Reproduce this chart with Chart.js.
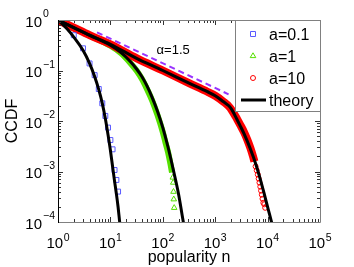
<!DOCTYPE html>
<html>
<head>
<meta charset="utf-8">
<script src="https://cdn.jsdelivr.net/npm/chart.js@4.4.1/dist/chart.umd.min.js"></script>
<style>
  body { margin: 0; background: #fff; }
  canvas { display: block; }
</style>
</head>
<body>
<canvas id="myChart" width="354" height="267"></canvas>
<script>
// tick values / labels
var xTicks = [1, 10, 100, 1000, 10000, 100000];
var xTickExp = ['0', '1', '2', '3', '4', '5'];
var yTicks = [1, 0.1, 0.01, 0.001, 0.0001];
var yTickExp = ['0', '\u22121', '\u22122', '\u22123', '\u22124'];

var seriesNames = ['a=0.1', 'a=1', 'a=10', 'theory'];

// a=0.1 (squares)
var blueN = [1, 2, 3, 4, 5, 6, 7, 8, 9, 10, 11, 12, 13, 14];
var blueP = [1, 0.50, 0.275, 0.138, 0.081, 0.043, 0.0224, 0.0126, 0.0074, 0.0042, 0.00275, 0.00107, 0.00068, 0.0004];

// a=1 (triangles), dense part and tail
var greenN = [1, 2, 4, 10, 16, 24, 32, 40, 50, 63, 79, 100, 112, 126, 140, 150];
var greenP = [1, 0.692, 0.49, 0.309, 0.219, 0.141, 0.0977, 0.0676, 0.0427, 0.0251, 0.0132, 0.00603, 0.0038, 0.0024, 0.00141, 0.000955];
var greenTailN = [155, 158, 160, 162, 165];
var greenTailP = [0.00076, 0.000603, 0.000398, 0.000282, 0.000191];

// a=10 (circles), dense part and tail
var redN = [1, 2, 4, 10, 32, 100, 316, 708, 1000, 1445, 1820, 2089, 2606, 3020, 3548, 4100, 4677, 5200, 5600];
var redP = [1, 0.708, 0.501, 0.331, 0.174, 0.1, 0.0562, 0.038, 0.0316, 0.024, 0.0195, 0.0162, 0.011, 0.00832, 0.00603, 0.00427, 0.00295, 0.00209, 0.00158];
var redTailN = [5900, 6200, 6500, 6750, 7000, 7250, 7500, 7750, 8000, 8300, 8650, 9000];
var redTailP = [0.00126, 0.00105, 0.00087, 0.000724, 0.000603, 0.000501, 0.000417, 0.000347, 0.000288, 0.00024, 0.000224, 0.000191];

// theory curves
var th01N = [1, 1.5, 2, 3, 4, 5, 6, 7, 8, 9, 10, 11, 12, 13, 14, 15, 15.3];
var th01P = [1, 0.66, 0.457, 0.251, 0.138, 0.0759, 0.0417, 0.0224, 0.0112, 0.00537, 0.00263, 0.00126, 0.000646, 0.000363, 0.0002, 0.000102, 0.000085];
var th1N = [1, 2, 3.98, 10, 15.8, 24, 31.6, 39.8, 50.1, 63.1, 79.4, 100, 126, 158, 200, 240, 251];
var th1P = [1, 0.708, 0.501, 0.316, 0.229, 0.151, 0.107, 0.0759, 0.049, 0.0288, 0.0155, 0.00741, 0.00302, 0.0011, 0.000355, 0.000117, 0.0000891];
var th10N = [1, 2, 3.98, 10, 31.6, 100, 316, 708, 1000, 1445, 1820, 2089, 2606, 3020, 3548, 4677, 6026, 7244, 8511, 9772, 10965, 12023];
var th10P = [1, 0.708, 0.501, 0.331, 0.174, 0.1, 0.0562, 0.038, 0.0316, 0.024, 0.02, 0.0166, 0.0107, 0.00794, 0.00562, 0.00282, 0.00135, 0.000708, 0.00038, 0.000219, 0.000138, 0.0000955];

// alpha=1.5 guide line
var slopeN = [5.55, 1800];
var slopeP = [0.57, 0.0338];
var slopeLabel = '\u03b1=1.5';
var slopeLabelAt = [76, 0.217];

var FONT = "'Liberation Sans', Arial, sans-serif";
var blue = '#5a5aff', green = '#55e000', red = '#ff0000', purple = '#9933ff';

function pts(xs, ys) {
    return xs.map(function (x, i) { return { x: x, y: ys[i] }; });
}

function drawMarker(ctx, style, x, y, color) {
    ctx.save();
    ctx.strokeStyle = color;
    ctx.lineWidth = 1;
    ctx.beginPath();
    if (style === 'rect') {
        ctx.rect(x - 2.5, y - 2.5, 5, 5);
    } else if (style === 'triangle') {
        ctx.moveTo(x, y - 3.2);
        ctx.lineTo(x + 2.8, y + 1.6);
        ctx.lineTo(x - 2.8, y + 1.6);
        ctx.closePath();
    } else {
        ctx.arc(x, y, 2.5, 0, Math.PI * 2);
    }
    ctx.stroke();
    ctx.restore();
}

var axesLook = {
    id: 'axesLook',
    afterDatasetsDraw: function (chart) {
        var ctx = chart.ctx, a = chart.chartArea;
        var xs = chart.scales.x, ys = chart.scales.y;
        var i, k, p;
        ctx.save();

        // ticks on all four sides, pointing inwards
        ctx.strokeStyle = '#333';
        ctx.lineWidth = 1;
        ctx.beginPath();
        for (i = 0; i < xTicks.length; i++) {
            p = Math.round(xs.getPixelForValue(xTicks[i])) + 0.5;
            ctx.moveTo(p, a.bottom); ctx.lineTo(p, a.bottom - 5);
            ctx.moveTo(p, a.top); ctx.lineTo(p, a.top + 5);
            if (i < xTicks.length - 1) {
                for (k = 2; k < 10; k++) {
                    p = Math.round(xs.getPixelForValue(xTicks[i] * k)) + 0.5;
                    ctx.moveTo(p, a.bottom); ctx.lineTo(p, a.bottom - 3);
                    ctx.moveTo(p, a.top); ctx.lineTo(p, a.top + 3);
                }
            }
        }
        for (i = 0; i < yTicks.length; i++) {
            p = Math.round(ys.getPixelForValue(yTicks[i])) + 0.5;
            ctx.moveTo(a.left, p); ctx.lineTo(a.left + 5, p);
            ctx.moveTo(a.right, p); ctx.lineTo(a.right - 5, p);
            if (i > 0) {
                for (k = 2; k < 10; k++) {
                    p = Math.round(ys.getPixelForValue(yTicks[i] * k)) + 0.5;
                    ctx.moveTo(a.left, p); ctx.lineTo(a.left + 3, p);
                    ctx.moveTo(a.right, p); ctx.lineTo(a.right - 3, p);
                }
            }
        }
        ctx.stroke();

        // box
        ctx.strokeStyle = '#808080';
        ctx.beginPath();
        ctx.moveTo(a.left, a.top + 0.5); ctx.lineTo(a.right + 0.5, a.top + 0.5);
        ctx.lineTo(a.right + 0.5, a.bottom + 0.5); ctx.lineTo(a.left, a.bottom + 0.5);
        ctx.stroke();
        ctx.strokeStyle = '#000';
        ctx.beginPath();
        ctx.moveTo(a.left + 0.5, a.top); ctx.lineTo(a.left + 0.5, a.bottom + 1);
        ctx.stroke();

        // tick labels 10^k
        ctx.fillStyle = '#000';
        ctx.textBaseline = 'alphabetic';
        for (i = 0; i < xTicks.length; i++) {
            p = xs.getPixelForValue(xTicks[i]);
            ctx.font = '15px ' + FONT;
            var w10 = ctx.measureText('10').width;
            ctx.font = '10.5px ' + FONT;
            var we = ctx.measureText(xTickExp[i]).width;
            var sx = p - (w10 + we + 0.5) / 2;
            ctx.font = '15px ' + FONT;
            ctx.textAlign = 'left';
            ctx.fillText('10', sx, a.bottom + 26.3);
            ctx.font = '10.5px ' + FONT;
            ctx.fillText(xTickExp[i], sx + w10 + 0.5, a.bottom + 18.5);
        }
        for (i = 0; i < yTicks.length; i++) {
            p = ys.getPixelForValue(yTicks[i]);
            ctx.font = '15px ' + FONT;
            ctx.textAlign = 'right';
            ctx.fillText('10', a.left - 16, p + 6.7);
            ctx.font = '10.5px ' + FONT;
            ctx.textAlign = 'left';
            ctx.fillText(yTickExp[i], a.left - 15, p - 3);
        }

        // axis titles
        ctx.font = '16px ' + FONT;
        ctx.textAlign = 'center';
        ctx.fillText('popularity n', (a.left + a.right) / 2, a.bottom + 39.5);
        ctx.save();
        ctx.translate(16.5, (a.top + a.bottom) / 2);
        ctx.rotate(-Math.PI / 2);
        ctx.fillText('CCDF', 0, 0);
        ctx.restore();

        // alpha label
        ctx.font = '13px ' + FONT;
        ctx.textAlign = 'left';
        ctx.fillText(slopeLabel, xs.getPixelForValue(slopeLabelAt[0]), ys.getPixelForValue(slopeLabelAt[1]));

        // legend box
        var lw = 84, lh = 91;
        var lx = a.right - lw, ly = a.top;
        ctx.fillStyle = '#fff';
        ctx.fillRect(lx, ly, lw, lh);
        ctx.strokeStyle = '#808080';
        ctx.strokeRect(lx - 0.5, ly + 0.5, lw + 1, lh);
        var cols = [blue, green, red];
        var styles = ['rect', 'triangle', 'circle'];
        ctx.font = '16px ' + FONT;
        ctx.fillStyle = '#000';
        for (i = 0; i < seriesNames.length; i++) {
            var ry = ly + 14 + i * 22;
            if (i < 3) {
                drawMarker(ctx, styles[i], lx + 17, ry, cols[i]);
            } else {
                ctx.strokeStyle = '#000';
                ctx.lineWidth = 3;
                ctx.beginPath();
                ctx.moveTo(lx + 5, ry); ctx.lineTo(lx + 30, ry);
                ctx.stroke();
                ctx.lineWidth = 1;
            }
            ctx.fillText(seriesNames[i], lx + 33, ry + 6);
        }
        ctx.restore();
    }
};

var ctx = document.getElementById('myChart');
var myChart = new Chart(ctx, {
    type: 'scatter',
    data: {
        datasets: [
            { label: 'slope', data: pts(slopeN, slopeP), showLine: true, borderColor: purple, borderWidth: 2,
              borderDash: [6, 4], pointRadius: 0, order: 0, clip: 0 },
            { label: 'theory a=0.1', data: pts(th01N, th01P), showLine: true, borderColor: '#000', borderWidth: 3,
              pointRadius: 0, cubicInterpolationMode: 'monotone', order: 1, clip: 0 },
            { label: 'theory a=1', data: pts(th1N, th1P), showLine: true, borderColor: '#000', borderWidth: 3,
              pointRadius: 0, cubicInterpolationMode: 'monotone', order: 1, clip: 0 },
            { label: 'theory a=10', data: pts(th10N, th10P), showLine: true, borderColor: '#000', borderWidth: 3,
              pointRadius: 0, cubicInterpolationMode: 'monotone', order: 1, clip: 0 },
            { label: 'a=0.1', data: pts(blueN, blueP), pointStyle: 'rect', pointRadius: 3.5, borderWidth: 1,
              borderColor: blue, backgroundColor: 'rgba(0,0,0,0)', order: 3, clip: 0 },
            { label: 'a=1 tail', data: pts(greenTailN, greenTailP), pointStyle: 'triangle', pointRadius: 3.2, borderWidth: 1,
              borderColor: green, backgroundColor: 'rgba(0,0,0,0)', order: 3, clip: 0 },
            { label: 'a=10 tail', data: pts(redTailN, redTailP), pointStyle: 'circle', pointRadius: 2.5, borderWidth: 1,
              borderColor: red, backgroundColor: 'rgba(0,0,0,0)', order: 3, clip: 0 },
            { label: 'a=10', data: pts(redN, redP), showLine: true, borderColor: red, borderWidth: 8,
              pointRadius: 0, cubicInterpolationMode: 'monotone', order: 4, clip: 0 },
            { label: 'a=1', data: pts(greenN, greenP), showLine: true, borderColor: green, borderWidth: 6,
              pointRadius: 0, cubicInterpolationMode: 'monotone', order: 5, clip: 0 }
        ]
    },
    options: {
        responsive: false,
        animation: false,
        devicePixelRatio: 1,
        events: [],
        layout: { padding: { left: 58, top: 20, right: 34, bottom: 45 } },
        scales: {
            x: { type: 'logarithmic', min: 1, max: 100000, display: false },
            y: { type: 'logarithmic', min: 0.0001, max: 1, display: false }
        },
        plugins: { legend: { display: false }, tooltip: { enabled: false } }
    },
    plugins: [axesLook]
});
</script>
</body>
</html>
